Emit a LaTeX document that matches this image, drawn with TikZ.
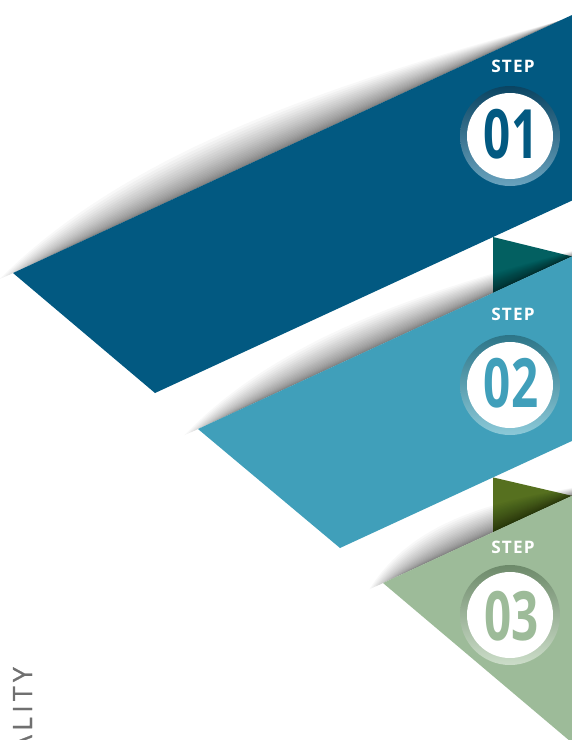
\documentclass[tikz,border=0pt]{standalone}
\usepackage{fontspec}
\setmainfont{Open Sans}
\usetikzlibrary{calc}

\definecolor{ribbonA}{HTML}{025981}
\definecolor{foldA}{HTML}{036061}
\definecolor{ribbonB}{HTML}{409FBA}
\definecolor{foldB}{HTML}{56701F}
\definecolor{ribbonC}{HTML}{9DBB99}
\definecolor{ringtopA}{HTML}{0A4462}
\definecolor{ringbotA}{HTML}{6AA3BE}
\definecolor{ringtopB}{HTML}{2C7588}
\definecolor{ringbotB}{HTML}{8CC9D8}
\definecolor{ringtopC}{HTML}{6D8A6A}
\definecolor{ringbotC}{HTML}{CCDDC9}
\definecolor{sidegray}{HTML}{707070}

% soft curl shadow above a ribbon edge:
% #1 start, #2 end, #3/#4 bulge sizes, #5 how far the dense core starts along the edge
\newcommand{\curlshadow}[5]{%
  \foreach \k in {1,...,24}{%
    \pgfmathsetmacro{\fa}{(\k/24)^1.8*#3}%
    \pgfmathsetmacro{\fb}{(\k/24)^1.8*#4}%
    \pgfmathsetmacro{\fs}{(1-\k/24)*#5}%
    \coordinate (shs) at ($(#1)!\fs!(#2)$);
    \fill[black, opacity=0.028]
      (shs) .. controls ($(shs)!0.3!(#2)+{\fa}*(-0.419,-0.908)$)
           and ($(shs)!0.667!(#2)+{\fb}*(-0.419,-0.908)$) .. (#2) -- cycle;
  }%
}

% badge: shaded ring around a white disc
\newcommand{\stepbadge}[4]{% #1 centre, #2 ring top, #3 ribbon, #4 ring bottom
  \shade[top color=#2, middle color=#3, bottom color=#4] (#1) circle (50);
  \fill[white] (#1) circle (43);
}

\tikzset{
  steplabel/.style={text=white, inner sep=0pt,
    font={\fontsize{17.2}{18}\selectfont\bfseries\addfontfeature{LetterSpace=7}}},
  numlabel/.style={inner sep=0pt, xscale=0.7,
    font={\fontsize{68}{68}\selectfont\bfseries}},
  sidetext/.style={text=sidegray, inner sep=0pt,
    font={\fontsize{26.6}{27}\selectfont\addfontfeature{LetterSpace=16,FakeBold=0.8}}}
}

\begin{document}
\begin{tikzpicture}[x=1pt,y=-1pt]
\useasboundingbox (0,0) rectangle (572,740);
\clip (0,0) rectangle (572,740);
\fill[white] (0,0) rectangle (572,740);

% shadows cast by the three ribbons, and the folded corners
\curlshadow{-0.6,279.3}{560,20.6}{68}{32}{0.12}
\fill[foldA] (493,237.0) -- (572,256.4) -- (493,292.9) -- cycle;
\fill[foldB] (493,477.4) -- (572,495.8) -- (493,532.2) -- cycle;
\curlshadow{184.4,435.3}{600,243.5}{54}{26}{0.14}
\curlshadow{369.4,589.3}{600,482.9}{50}{22}{0.18}

% the ribbons
\fill[ribbonA] (13,273) -- (155,393) -- (655,162.25) -- (713,-50.05) -- cycle;
\fill[ribbonB] (198,429) -- (340,548) -- (840,317.25) -- (898,105.95) -- cycle;
\fill[ribbonC] (383,583) -- (700,851) -- (900,758.7) -- (900,344.4) -- cycle;

% badges
\stepbadge{510,136}{ringtopA}{ribbonA}{ringbotA}
\stepbadge{510,385}{ringtopB}{ribbonB}{ringbotB}
\stepbadge{510,615}{ringtopC}{ribbonC}{ringbotC}

\node[steplabel] (stepA) at (513,66) {STEP};
\node[steplabel] (stepB) at (513,314) {STEP};
\node[steplabel] (stepC) at (513,547.5) {STEP};

\node[numlabel, text=ribbonA] (numA) at (511,134) {01};
\node[numlabel, text=ribbonB] (numB) at (511,383) {02};
\node[numlabel, text=ribbonC] (numC) at (511.5,616) {03};

% vertical caption along the left edge
\node[sidetext, rotate=90, anchor=base east] (side) at (32,667) {ALITY};
\end{tikzpicture}
\end{document}
